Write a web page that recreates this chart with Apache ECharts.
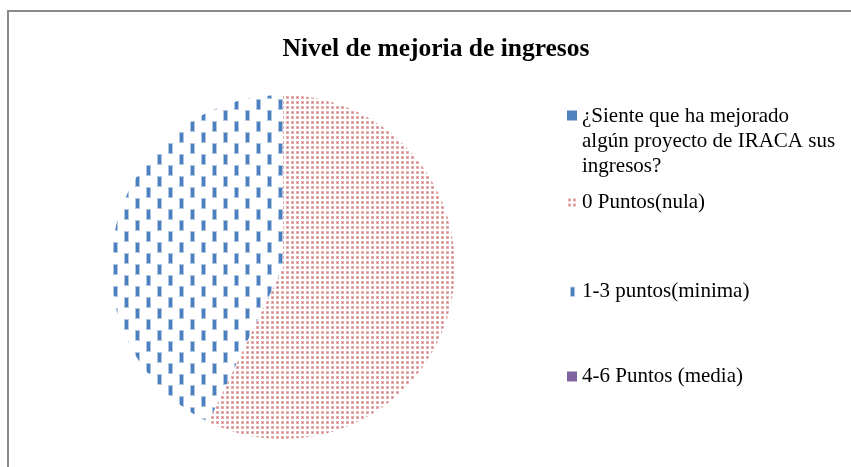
<!DOCTYPE html>
<html>
<head>
<meta charset="utf-8">
<script src="https://cdn.jsdelivr.net/npm/echarts@6/dist/echarts.min.js"></script>
<style>
  html, body { margin: 0; padding: 0; background: #fff; }
  #container { width: 851px; height: 467px; }
</style>
</head>
<body>
<div id="container"></div>
<script>
// data
var categories = [
    '¿Siente que ha mejorado algún proyecto de IRACA sus ingresos?',
    '0 Puntos(nula)',
    '1-3 puntos(minima)',
    '4-6 Puntos (media)'
];
var values = [0, 16, 12, 0];
var legendTops = [104, 190, 279, 364];

// fill patterns like the excel ones
function dotPattern() {
    var c = document.createElement('canvas');
    c.width = 5; c.height = 5;
    var ctx = c.getContext('2d');
    ctx.fillStyle = '#ffffff';
    ctx.fillRect(0, 0, 5, 5);
    ctx.fillStyle = 'rgba(192,80,77,0.45)';
    ctx.fillRect(1, 1, 3, 3);
    ctx.fillStyle = 'rgba(192,80,77,0.6)';
    ctx.fillRect(2, 2, 1, 1);
    return c;
}
function dashPattern() {
    var c = document.createElement('canvas');
    c.width = 22; c.height = 22;
    var ctx = c.getContext('2d');
    ctx.fillStyle = '#ffffff';
    ctx.fillRect(0, 0, 22, 22);
    ctx.fillStyle = 'rgba(79,129,189,0.45)';
    ctx.fillRect(3, 0, 5, 11);
    ctx.fillRect(14, 11, 5, 11);
    ctx.fillStyle = '#4a7fc0';
    ctx.fillRect(4, 1, 3, 9);
    ctx.fillRect(15, 12, 3, 9);
    return c;
}

var colors = [
    '#4f81bd',
    { image: dotPattern(), repeat: 'repeat' },
    { image: dashPattern(), repeat: 'repeat' },
    '#8064a2'
];

var pieData = [];
for (var i = 0; i < categories.length; i++) {
    pieData.push({ name: categories[i], value: values[i], itemStyle: { color: colors[i] } });
}

var legends = [];
for (var j = 0; j < categories.length; j++) {
    legends.push({
        data: [categories[j]],
        orient: 'vertical',
        left: 567,
        top: legendTops[j],
        padding: 0,
        itemWidth: 10,
        itemHeight: j === 0 ? 62 : 10,
        itemGap: 0,
        icon: j === 0 ? 'path://M0,0h10v10h-10z M0,62h0.01v0.01h-0.01z' : 'rect',
        selectedMode: false,
        formatter: function (name) {
            if (name === categories[0]) {
                return '¿Siente que ha mejorado\nalgún proyecto de IRACA sus\ningresos?';
            }
            return name;
        },
        textStyle: {
            fontFamily: 'Liberation Serif',
            fontSize: 21,
            lineHeight: 25,
            color: '#000',
            padding: [0, 0, 0, 0]
        }
    });
}

var dom = document.getElementById('container');
var myChart = echarts.init(dom);
var option = {
    animation: false,
    backgroundColor: '#fff',
    title: {
        text: 'Nivel de mejoria de ingresos',
        left: 431,
        textAlign: 'center',
        top: 31,
        textStyle: {
            fontFamily: 'Liberation Serif',
            fontWeight: 'bold',
            fontSize: 25.5,
            color: '#000'
        }
    },
    legend: legends,
    graphic: [{
        type: 'rect',
        shape: { x: 8, y: 11, width: 900, height: 500 },
        style: { fill: 'none', stroke: '#8a8a8a', lineWidth: 2 },
        silent: true
    }],
    series: [{
        type: 'pie',
        center: [283, 267],
        radius: 172,
        startAngle: 90,
        clockwise: true,
        label: { show: false },
        labelLine: { show: false },
        itemStyle: { borderWidth: 0 },
        emphasis: { disabled: true },
        data: pieData
    }]
};
myChart.setOption(option);
</script>
</body>
</html>
